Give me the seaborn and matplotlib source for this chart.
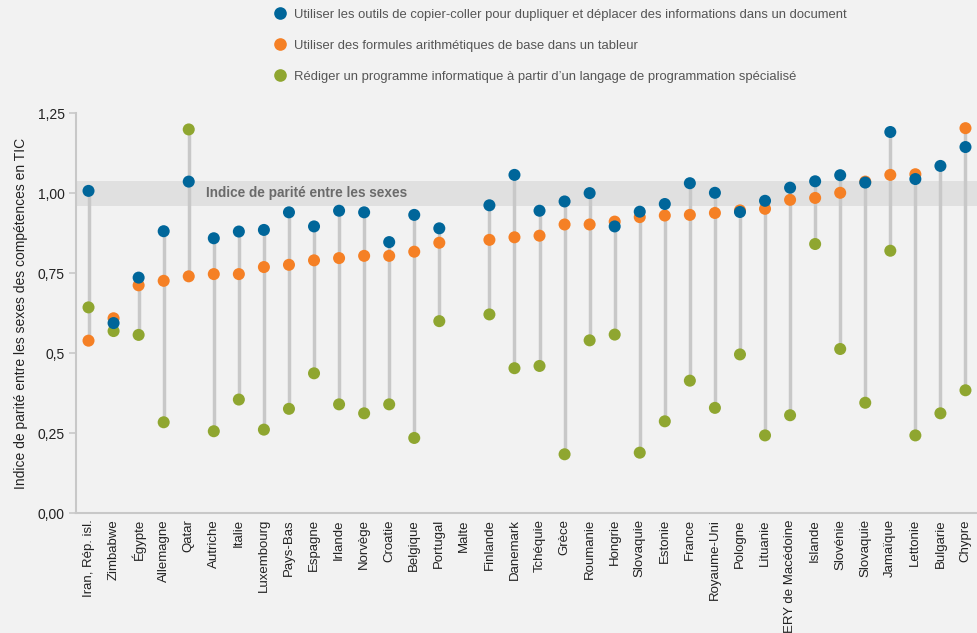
import numpy as np
import pandas as pd
import matplotlib
matplotlib.use("Agg")
import matplotlib.pyplot as plt
import seaborn as sns

nan = np.nan

countries = ["Iran, Rép. isl.", "Zimbabwe", "Égypte", "Allemagne", "Qatar", "Autriche", "Italie",
             "Luxembourg", "Pays-Bas", "Espagne", "Irlande", "Norvège", "Croatie", "Belgique",
             "Portugal", "Malte", "Finlande", "Danemark", "Tchéquie", "Grèce", "Roumanie", "Hongrie",
             "Slovaquie", "Estonie", "France", "Royaume-Uni", "Pologne", "Lituanie",
             "ERY de Macédoine", "Islande", "Slovénie", "Slovaquie", "Jamaïque", "Lettonie",
             "Bulgarie", "Chypre"]

copier_coller = [1.008, 0.595, 0.737, 0.882, 1.037, 0.860, 0.881, 0.886, 0.941, 0.897, 0.946, 0.941,
                 0.848, 0.933, 0.891, nan, 0.963, 1.058, 0.946, 0.975, 1.001, 0.897, 0.943, 0.967,
                 1.032, 1.002, 0.942, 0.977, 1.018, 1.038, 1.057, 1.034, 1.192, 1.045, 1.086, 1.145]
formules = [0.540, 0.610, 0.713, 0.727, 0.741, 0.748, 0.748, 0.770, 0.777, 0.791, 0.798, 0.805,
            0.805, 0.818, 0.846, nan, 0.855, 0.863, 0.868, 0.903, 0.903, 0.912, 0.926, 0.931,
            0.933, 0.939, 0.947, 0.952, 0.980, 0.986, 1.002, 1.037, 1.058, 1.060, nan, 1.204]
programme = [0.644, 0.570, 0.558, 0.285, 1.200, 0.257, 0.356, 0.262, 0.327, 0.438, 0.341, 0.313,
             0.341, 0.236, 0.601, nan, 0.622, 0.454, 0.461, 0.185, 0.541, 0.559, 0.190, 0.288,
             0.415, 0.330, 0.497, 0.244, 0.307, 0.842, 0.514, 0.346, 0.821, 0.244, 0.313, 0.385]

series_labels = [
    "Utiliser les outils de copier-coller pour dupliquer et déplacer des informations dans un document",
    "Utiliser des formules arithmétiques de base dans un tableur",
    "Rédiger un programme informatique à partir d\u2019un langage de programmation spécialisé",
]
series_colors = ["#00669a", "#f58025", "#8fa630"]
y_ticks = [0, 0.25, 0.5, 0.75, 1.0, 1.25]
y_ticklabels = ["0,00", "0,25", "0,5", "0,75", "1,00", "1,25"]
parity_band = (0.96, 1.04)

sns.set_theme(style="white")
plt.rcParams["font.family"] = ["Liberation Sans", "DejaVu Sans"]
bg = "#f2f2f2"
grey = "#c8c8c8"
txt = "#222222"

wide = pd.DataFrame({
    "pos": np.arange(len(countries)),
    "pays": countries,
    series_labels[2]: programme,
    series_labels[1]: formules,
    series_labels[0]: copier_coller,
})
# green first, blue last so blue ends up on top
long = wide.melt(id_vars=["pos", "pays"], var_name="serie", value_name="indice").dropna()

fig = plt.figure(figsize=(9.78, 6.33), dpi=100, facecolor=bg)
ax = fig.add_axes([0.0777, 0.1888, 0.9223, 0.632], facecolor=bg)

ax.axhspan(*parity_band, color="#e0e0e0", zorder=0, lw=0)
ax.text(4.69, 1.0, "Indice de parité entre les sexes", fontsize=9.8, fontweight="bold",
        color="#6b6b6b", va="center", ha="left", zorder=1)

# grey stems from lowest to highest value
rng = long.groupby("pos")["indice"].agg(["min", "max"]).reset_index()
ax.vlines(rng["pos"], rng["min"], rng["max"], color=grey, lw=2.5, zorder=2)

sns.scatterplot(data=long, x="pos", y="indice", hue="serie", hue_order=series_labels,
                palette=series_colors, s=75, linewidth=0, ax=ax, zorder=3)
for c in ax.collections:
    c.set_clip_on(False)

ax.set_xlim(-0.5, len(countries) - 0.5)
ax.set_ylim(0, 1.25)
ax.set_xticks(np.arange(len(countries)))
ax.set_xticklabels(countries, rotation=90, fontsize=9.5, color=txt)
ax.set_xticks(np.arange(len(countries)) + 0.5, minor=True)
ax.tick_params(axis="x", which="major", length=0, pad=4)
ax.tick_params(axis="x", which="minor", length=5, width=1.2, color=grey, direction="out")
ax.set_yticks(y_ticks)
ax.set_yticklabels(y_ticklabels, fontsize=10, color=txt)
ax.tick_params(axis="y", length=5, width=1.2, color=grey, left=True, pad=3)
ax.set_xlabel("")
ax.set_ylabel("Indice de parité entre les sexes des compétences en TIC", fontsize=10, color=txt)
ax.yaxis.set_label_coords(-0.053, 0.5)

sns.despine(ax=ax)
for side in ["left", "bottom"]:
    ax.spines[side].set_color(grey)
    ax.spines[side].set_linewidth(1.5)

sns.move_legend(ax, loc="upper left", bbox_to_anchor=(0.268, 0.995), bbox_transform=fig.transFigure,
                title=None, frameon=False, fontsize=9.4, labelspacing=1.45, handletextpad=0.05,
                markerscale=1.05, labelcolor="#555555", borderaxespad=0)

fig.savefig("out.png", dpi=100, facecolor=bg)
